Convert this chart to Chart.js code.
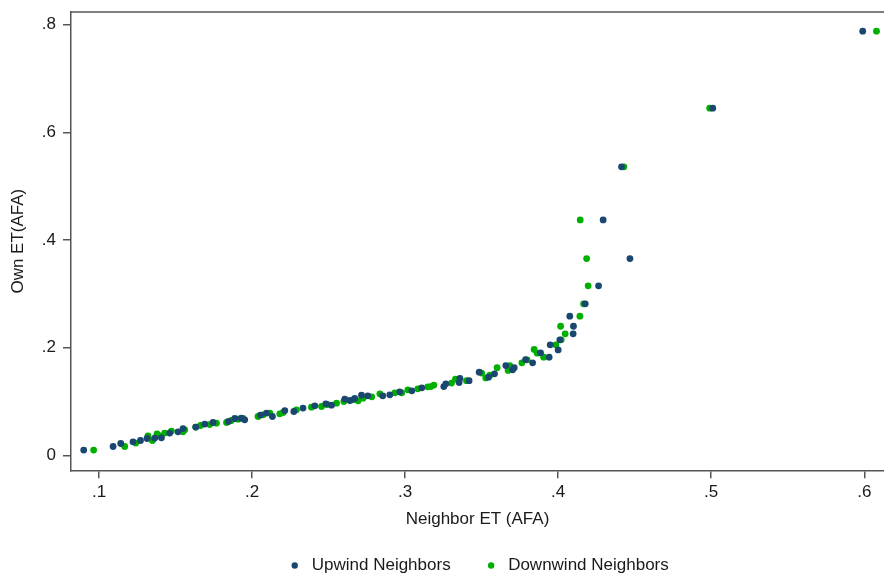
<!DOCTYPE html>
<html>
<head>
<meta charset="utf-8">
<script src="https://cdn.jsdelivr.net/npm/chart.js@4/dist/chart.umd.min.js"></script>
<style>
  html, body { margin: 0; padding: 0; background: #fff; overflow: hidden; }
  #wrap { width: 884px; height: 577px; }
</style>
</head>
<body>
<div id="wrap"><canvas id="chart" width="884" height="577"></canvas></div>
<script>
// ET of neighbours (x) against own ET (y), split by wind direction
const upwindNeighborET = [
  0.090, 0.1092, 0.1142, 0.1222, 0.1271, 0.1314, 0.1364, 0.1408, 0.1462, 0.1516,
  0.1549, 0.1632, 0.1691, 0.1745, 0.1846, 0.1887, 0.1930, 0.1952, 0.2055, 0.2094,
  0.2133, 0.2214, 0.2273, 0.2333, 0.2410, 0.2482, 0.2519, 0.2606, 0.2639, 0.2671,
  0.2715, 0.2756, 0.2854, 0.2900, 0.2965, 0.3044, 0.3109, 0.3253, 0.3266, 0.3353,
  0.3358, 0.3418, 0.3484, 0.3545, 0.3584, 0.3658, 0.3702, 0.3713, 0.3787, 0.3833,
  0.3885, 0.3941, 0.3948, 0.4000, 0.4011, 0.4076, 0.4098, 0.4100, 0.4177, 0.4264,
  0.4294, 0.4414, 0.4469, 0.5010, 0.5990
];
const upwindOwnET = [
  0.010, 0.0167, 0.0223, 0.0254, 0.0278, 0.0316, 0.0323, 0.0329, 0.0416, 0.0440,
  0.0500, 0.0527, 0.0583, 0.0613, 0.0631, 0.0687, 0.0693, 0.0663, 0.0750, 0.0787,
  0.0724, 0.0835, 0.0817, 0.0880, 0.0922, 0.0960, 0.0935, 0.1047, 0.1021, 0.1058,
  0.1121, 0.1108, 0.1108, 0.1127, 0.1182, 0.1201, 0.1257, 0.1280, 0.1330, 0.1355,
  0.1430, 0.1390, 0.1548, 0.1455, 0.1517, 0.1670, 0.1590, 0.1630, 0.1780, 0.1720,
  0.1906, 0.1826, 0.2055, 0.1960, 0.2148, 0.2587, 0.2260, 0.2400, 0.2816, 0.3150,
  0.4375, 0.5360, 0.3657, 0.6450, 0.7880
];
const downwindNeighborET = [
  0.0965, 0.1168, 0.1240, 0.1320, 0.1349, 0.1379, 0.1401, 0.1429, 0.1473, 0.1549,
  0.1560, 0.1632, 0.1663, 0.1723, 0.1767, 0.1833, 0.1865, 0.1909, 0.1941, 0.2039,
  0.2072, 0.2116, 0.2181, 0.2203, 0.2290, 0.2388, 0.2454, 0.2490, 0.2552, 0.2600,
  0.2660, 0.2693, 0.2725, 0.2782, 0.2835, 0.2933, 0.2978, 0.3018, 0.3083, 0.3148,
  0.3168, 0.3188, 0.3303, 0.3329, 0.3401, 0.3500, 0.3527, 0.3554, 0.3601, 0.3673,
  0.3684, 0.3763, 0.3797, 0.3843, 0.3863, 0.3905, 0.3985, 0.4020, 0.4016, 0.4046,
  0.4142, 0.4144, 0.4166, 0.4186, 0.4196, 0.4429, 0.4990, 0.6080
];
const downwindOwnET = [
  0.010, 0.0167, 0.0230, 0.0366, 0.0278, 0.0403, 0.0366, 0.0416, 0.0453, 0.0440,
  0.0477, 0.0527, 0.0557, 0.0575, 0.0601, 0.0613, 0.0650, 0.0675, 0.0687, 0.0724,
  0.0756, 0.0787, 0.0774, 0.0798, 0.0848, 0.0898, 0.0910, 0.0947, 0.0972, 0.1003,
  0.1034, 0.1015, 0.1065, 0.1090, 0.1145, 0.1164, 0.1164, 0.1220, 0.1238, 0.1275,
  0.1280, 0.1307, 0.1344, 0.1418, 0.1390, 0.1530, 0.1440, 0.1490, 0.1630, 0.1580,
  0.1670, 0.1720, 0.1776, 0.1968, 0.1900, 0.1826, 0.2055, 0.2148, 0.2400, 0.2260,
  0.2587, 0.4375, 0.2816, 0.3657, 0.3150, 0.5360, 0.6450, 0.7880
];

const seriesNames = ['Upwind Neighbors', 'Downwind Neighbors'];
const xTicks = [0.1, 0.2, 0.3, 0.4, 0.5, 0.6];
const yTicks = [0, 0.2, 0.4, 0.6, 0.8];

const NAVY = '#1a476f';
const GREEN = '#00b000';
const AXIS = '#555555';
const TEXT = '#1a1a1a';
const FONT = '"Liberation Sans", Arial, Helvetica, sans-serif';

const toPoints = (xs, ys) => xs.map((x, i) => ({ x, y: ys[i] }));
const stataLabel = v => (v === 0 ? '0' : String(v).replace(/^0\./, '.'));

// closes the frame along the top edge of the plot region
const topFrame = {
  id: 'topFrame',
  afterDraw(chart) {
    const { ctx, chartArea } = chart;
    ctx.save();
    ctx.strokeStyle = AXIS;
    ctx.lineWidth = 1.5;
    ctx.beginPath();
    ctx.moveTo(chartArea.left, chartArea.top);
    ctx.lineTo(chartArea.right, chartArea.top);
    ctx.stroke();
    ctx.restore();
  }
};

Chart.defaults.font.family = FONT;
Chart.defaults.color = TEXT;

new Chart(document.getElementById('chart'), {
  type: 'scatter',
  data: {
    datasets: [
      {
        label: seriesNames[0],
        data: toPoints(upwindNeighborET, upwindOwnET),
        backgroundColor: NAVY,
        borderColor: NAVY,
        borderWidth: 0,
        pointRadius: 3.4,
        pointHoverRadius: 3.4
      },
      {
        label: seriesNames[1],
        data: toPoints(downwindNeighborET, downwindOwnET),
        backgroundColor: GREEN,
        borderColor: GREEN,
        borderWidth: 0,
        pointRadius: 3.4,
        pointHoverRadius: 3.4
      }
    ]
  },
  options: {
    responsive: false,
    animation: false,
    layout: { autoPadding: false, padding: { top: 12, right: 0, left: 0, bottom: -7 } },
    scales: {
      x: {
        min: 0.0817,
        max: 0.6129,
        afterBuildTicks: s => { s.ticks = xTicks.map(value => ({ value })); },
        afterFit: s => {
          s.height = 54.7;
          s.paddingLeft = 0;
          s.paddingRight = 0;
        },
        ticks: {
          callback: stataLabel,
          font: { size: 17 },
          color: TEXT,
          padding: 4,
          maxRotation: 0,
          autoSkip: false
        },
        grid: { drawOnChartArea: false, tickLength: 8, color: AXIS, lineWidth: 1.5 },
        border: { color: AXIS, width: 1.5 },
        title: {
          display: true,
          text: 'Neighbor ET (AFA)',
          font: { size: 17 },
          color: TEXT,
          padding: { top: 0, bottom: -5 }
        }
      },
      y: {
        min: -0.0275,
        max: 0.8236,
        afterBuildTicks: s => { s.ticks = yTicks.map(value => ({ value })); },
        afterFit: s => {
          s.width = 71;
          s.paddingTop = 0;
          s.paddingBottom = 0;
        },
        ticks: {
          callback: stataLabel,
          font: { size: 17 },
          color: TEXT,
          padding: 7
        },
        grid: { drawOnChartArea: false, tickLength: 8, color: AXIS, lineWidth: 1.5 },
        border: { color: AXIS, width: 1.5 },
        title: {
          display: true,
          text: 'Own ET(AFA)',
          font: { size: 17 },
          color: TEXT,
          padding: { top: 8, bottom: 0 }
        }
      }
    },
    plugins: {
      legend: {
        position: 'bottom',
        fullSize: false,
        labels: {
          usePointStyle: true,
          pointStyle: 'circle',
          boxWidth: 17,
          boxHeight: 4.5,
          padding: 32,
          font: { size: 17 },
          color: TEXT
        }
      },
      tooltip: { enabled: false }
    }
  },
  plugins: [topFrame]
});
</script>
</body>
</html>
